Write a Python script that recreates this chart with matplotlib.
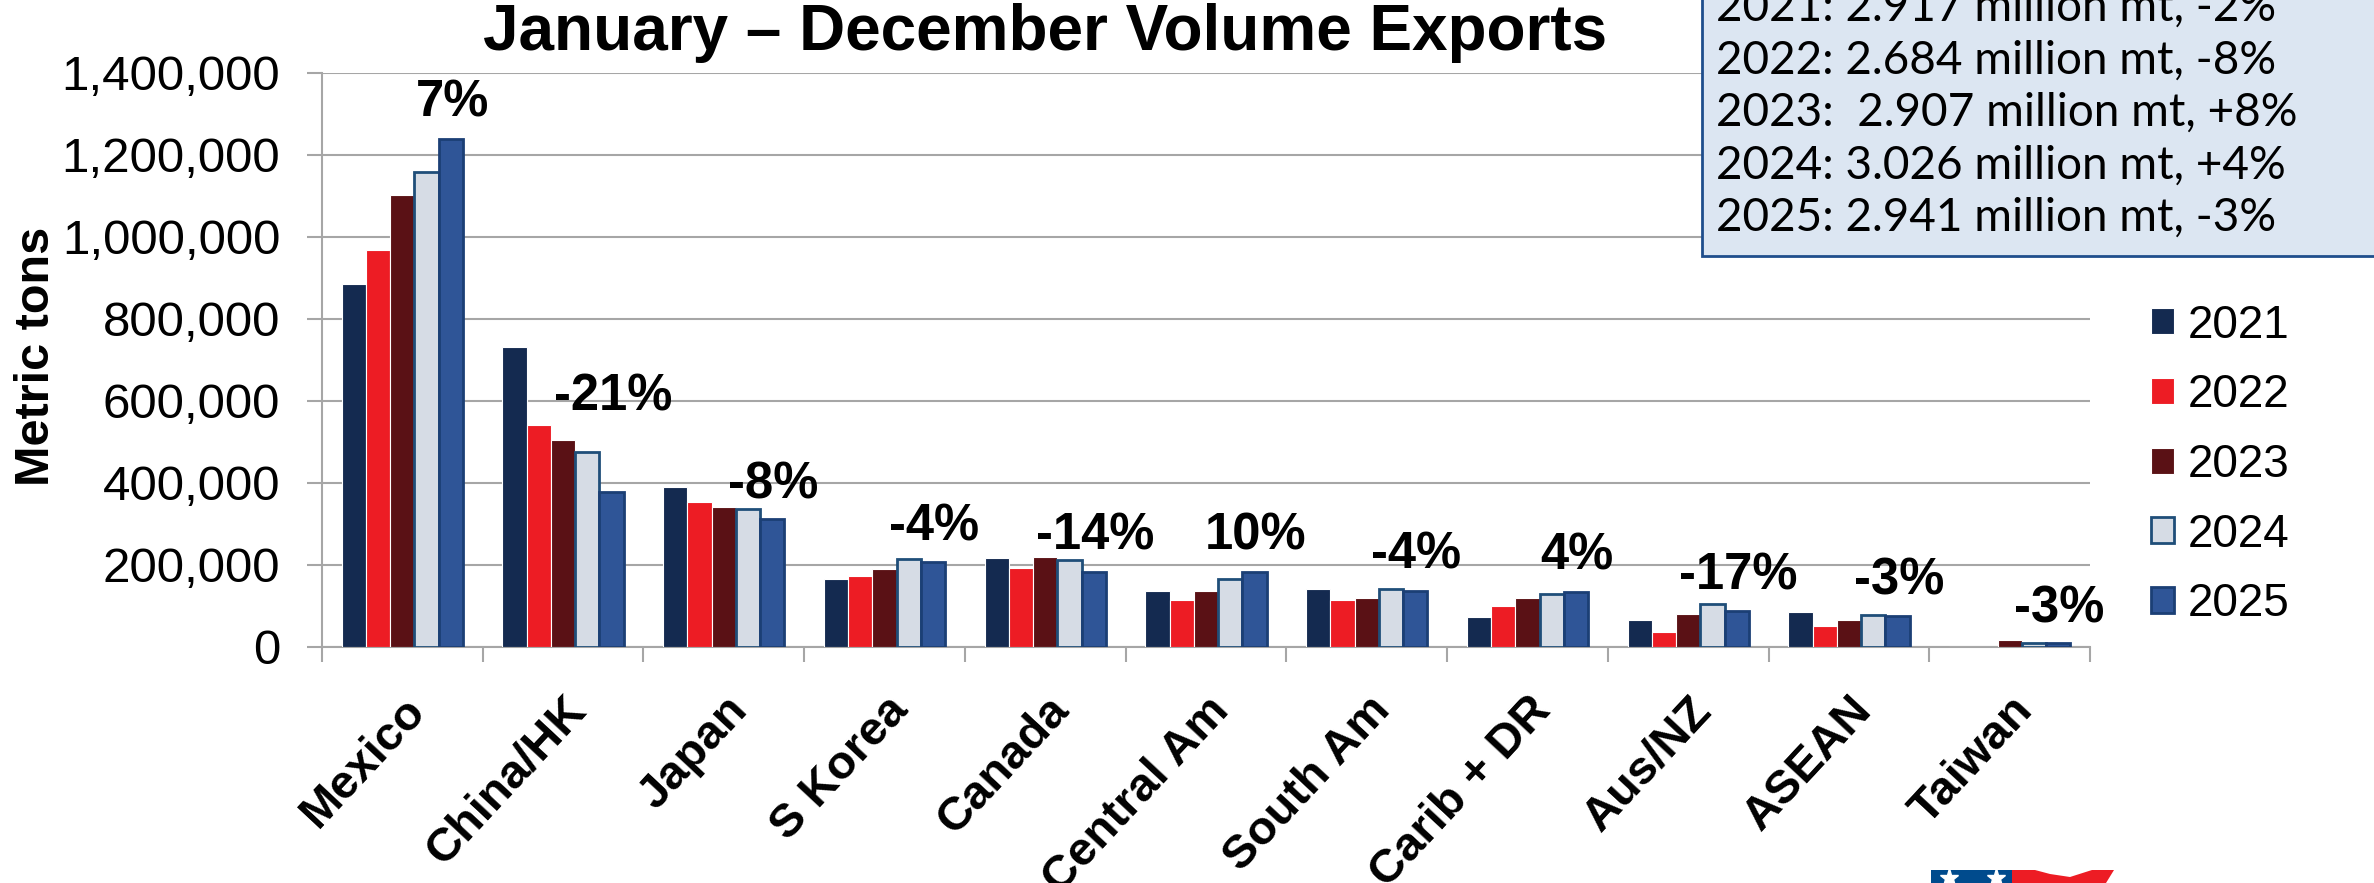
import numpy as np
import matplotlib
matplotlib.use("Agg")
import matplotlib.pyplot as plt
from matplotlib.patches import Rectangle, Polygon
from matplotlib.ticker import StrMethodFormatter, FixedLocator
from matplotlib.transforms import ScaledTranslation

plt.rcParams['font.family'] = ['Liberation Sans', 'DejaVu Sans']

# data (metric tons)
markets = ["Mexico", "China/HK", "Japan", "S Korea", "Canada", "Central Am",
           "South Am", "Carib + DR", "Aus/NZ", "ASEAN", "Taiwan"]
years = ["2021", "2022", "2023", "2024", "2025"]
vol_2021 = [884000, 730000, 390000, 164000, 216000, 136000, 140000, 72000, 66000, 85000, 0]
vol_2022 = [967000, 540000, 354000, 172000, 193000, 115000, 113000, 100000, 37000, 50000, 0]
vol_2023 = [1102000, 503000, 341000, 190000, 219000, 137000, 118000, 120000, 80000, 64000, 16000]
vol_2024 = [1157000, 475000, 337000, 215000, 211000, 166000, 141000, 128000, 103000, 77000, 9000]
vol_2025 = [1239000, 378000, 311000, 206000, 183000, 183000, 137000, 133000, 86000, 75000, 8700]
pct_change = ["7%", "-21%", "-8%", "-4%", "-14%", "10%", "-4%", "4%", "-17%", "-3%", "-3%"]
pct_label_y = [1325000, 608000, 395000, 293000, 270000, 270000, 224000, 220000, 172000, 160000, 92000]
summary_lines = ["2021: 2.917 million mt, -2%",
                 "2022: 2.684 million mt, -8%",
                 "2023:  2.907 million mt, +8%",
                 "2024: 3.026 million mt, +4%",
                 "2025: 2.941 million mt, -3%"]

series = [vol_2021, vol_2022, vol_2023, vol_2024, vol_2025]
face_colors = ["#142A50", "#ED1C24", "#5A1115", "#D6DCE5", "#2F5597"]
edge_colors = ["white", "white", "white", "#1F4E79", "#1B3F75"]
edge_widths = [0.8, 0.8, 0.8, 2.0, 2.0]

W, H = 2374, 883
fig = plt.figure(figsize=(W / 100, H / 100), dpi=100)
ax = fig.add_axes([322 / W, 1 - 646.7 / H, (2090 - 322) / W, (646.7 - 72.7) / H])

x = np.arange(len(markets))
bar_w = 0.151
handles = []
for k, vals in enumerate(series):
    b = ax.bar(x + (k - 2) * bar_w, vals, width=bar_w, color=face_colors[k],
               edgecolor=edge_colors[k], linewidth=edge_widths[k], zorder=3,
               label=years[k])
    handles.append(b)

for i, txt in enumerate(pct_change):
    ax.text(i + 0.31, pct_label_y[i], txt, ha="center", va="center",
            fontsize=36.5, fontweight="bold", zorder=4)

ax.set_xlim(-0.5, len(markets) - 0.5)
ax.set_ylim(0, 1400000)
ax.set_yticks(np.arange(0, 1400001, 200000))
ax.yaxis.set_major_formatter(StrMethodFormatter("{x:,.0f}"))
ax.grid(axis="y", color="#A6A6A6", linewidth=1.5, zorder=0)
ax.set_axisbelow(True)

# category labels at centres, tick marks at the boundaries
ax.set_xticks(x)
ax.set_xticklabels(markets, rotation=47, ha="right", rotation_mode="anchor",
                   fontsize=34, fontweight="bold")
shift = ScaledTranslation(-10 / 100, 0, fig.dpi_scale_trans)
for lab in ax.get_xticklabels():
    lab.set_transform(lab.get_transform() + shift)
ax.tick_params(axis="x", which="major", length=0, pad=30)
ax.xaxis.set_minor_locator(FixedLocator(np.arange(-0.5, len(markets), 1.0)))
ax.tick_params(axis="x", which="minor", length=11, width=1.5, color="#A6A6A6")
ax.tick_params(axis="y", length=11, width=1.5, color="#A6A6A6", labelsize=35.5, pad=19)

for s in ["top", "right"]:
    ax.spines[s].set_visible(False)
for s in ["left", "bottom"]:
    ax.spines[s].set_color("#A6A6A6")
    ax.spines[s].set_linewidth(1.5)

ax.set_ylabel("Metric tons", fontsize=35, fontweight="bold")
ax.yaxis.set_label_coords(-0.149, 0.506)

fig.text(1045 / W, 1 - 33 / H, "January \u2013 December Volume Exports",
         ha="center", va="center", fontsize=46, fontweight="bold")

leg = ax.legend(handles=handles, loc="center left",
                bbox_to_anchor=(2151 / W, 1 - 465 / H), bbox_transform=fig.transFigure,
                frameon=False, fontsize=33, handlelength=0.5, handleheight=0.5,
                handletextpad=0.3, labelspacing=0.56, borderpad=0, borderaxespad=0)

# summary box in the top right corner
box = Rectangle((1702 / W, 1 - 256 / H), 1.0, 1.0, transform=fig.transFigure,
                facecolor="#DCE6F2", edgecolor="#1F4E8C", linewidth=2.0, zorder=5)
fig.add_artist(box)
for k, line in enumerate(summary_lines):
    yy = 218 - 52.5 * (len(summary_lines) - 1 - k)
    fig.text(1716 / W, 1 - yy / H, line, ha="left", va="center",
             fontsize=33, family=["Lato", "DejaVu Sans"], zorder=6)

# logo peeking in at the bottom
fig.add_artist(Rectangle((1931 / W, 0), 81 / W, 13 / H, transform=fig.transFigure,
                         facecolor="#004B8D", edgecolor="none", zorder=5))
fig.add_artist(Polygon([(2012 / W, 0), (2012 / W, 13 / H), (2035 / W, 13 / H),
                        (2050 / W, 9 / H), (2070 / W, 6 / H), (2092 / W, 13 / H),
                        (2114 / W, 13 / H), (2106 / W, 0)],
                       closed=True, transform=fig.transFigure,
                       facecolor="#ED1C24", edgecolor="none", zorder=5))
for sx in [1949, 1996]:
    fig.add_artist(plt.Line2D([sx / W], [5 / H], marker="*", markersize=14,
                              color="white", transform=fig.transFigure, zorder=6))

fig.savefig("out.png", dpi=100)
